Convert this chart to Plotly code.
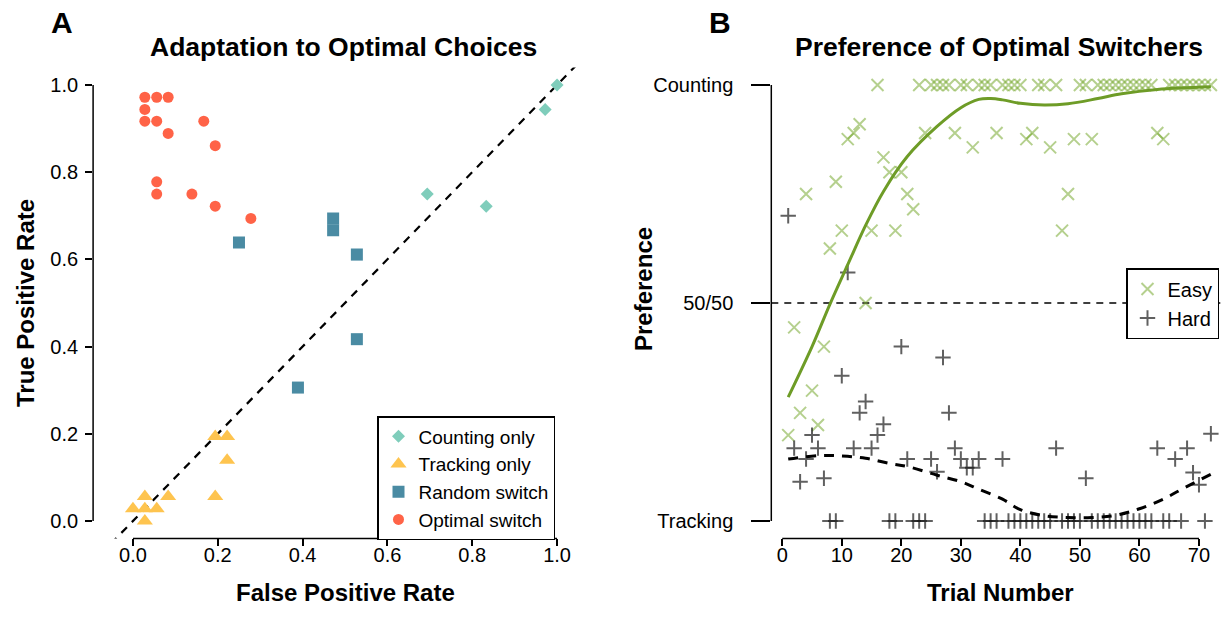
import plotly.graph_objects as go

W, H = 1221, 631
FONT = "Liberation Sans, Arial, Helvetica, sans-serif"

# ---------------- Panel A data (false / true positive rates) ----------------
counting_fpr = [1.0, 0.972, 0.694, 0.833]
counting_tpr = [1.0, 0.944, 0.750, 0.722]

tracking_fpr = [0.194, 0.222, 0.222, 0.028, 0.083, 0.194, 0.000, 0.028, 0.056, 0.028]
tracking_tpr = [0.194, 0.194, 0.139, 0.056, 0.056, 0.056, 0.028, 0.028, 0.028, 0.000]

random_fpr = [0.472, 0.472, 0.250, 0.528, 0.528, 0.389]
random_tpr = [0.694, 0.667, 0.639, 0.611, 0.417, 0.306]

optimal_fpr = [0.028, 0.056, 0.083, 0.028, 0.028, 0.056, 0.167, 0.083, 0.194,
               0.056, 0.056, 0.139, 0.194, 0.278]
optimal_tpr = [0.972, 0.972, 0.972, 0.944, 0.917, 0.917, 0.917, 0.889, 0.861,
               0.778, 0.750, 0.750, 0.722, 0.694]

a_ticks = [0.0, 0.2, 0.4, 0.6, 0.8, 1.0]
a_ticklabels = ["0.0", "0.2", "0.4", "0.6", "0.8", "1.0"]

# ---------------- Panel B data (preference per trial) ----------------
trials = list(range(1, 73))
easy_pref = [0.197, 0.444, 0.248, 0.750, 0.299, 0.220, 0.400, 0.625, 0.778, 0.666,
             0.876, 0.890, 0.910, 0.500, 0.666, 1.000, 0.834, 0.800, 0.666, 0.800,
             0.750, 0.715, 1.000, 0.890, 1.000, 1.000, 1.000, 1.000, 0.890, 1.000,
             1.000, 0.857, 1.000, 1.000, 1.000, 0.890, 1.000, 1.000, 1.000, 1.000,
             0.876, 0.890, 1.000, 1.000, 0.857, 1.000, 0.666, 0.750, 0.876, 1.000,
             1.000, 0.876, 1.000, 1.000, 1.000, 1.000, 1.000, 1.000, 1.000, 1.000,
             1.000, 1.000, 0.890, 0.876, 1.000, 1.000, 1.000, 1.000, 1.000, 1.000,
             1.000, 1.000]
hard_pref = [0.700, 0.167, 0.090, 0.142, 0.197, 0.167, 0.098, 0.000, 0.000, 0.333,
             0.570, 0.167, 0.248, 0.274, 0.167, 0.197, 0.222, 0.000, 0.000, 0.400,
             0.142, 0.000, 0.000, 0.000, 0.142, 0.113, 0.375, 0.248, 0.167, 0.142,
             0.122, 0.122, 0.142, 0.000, 0.000, 0.000, 0.142, 0.000, 0.000, 0.000,
             0.000, 0.000, 0.000, 0.000, 0.000, 0.167, 0.000, 0.000, 0.000, 0.000,
             0.098, 0.000, 0.000, 0.000, 0.000, 0.000, 0.000, 0.000, 0.000, 0.000,
             0.000, 0.000, 0.167, 0.000, 0.000, 0.142, 0.000, 0.167, 0.111, 0.083,
             0.000, 0.200]

# smoothed trends
easy_fit_trial = [1, 5, 8, 11, 14, 17, 21, 26, 30, 33, 35, 37, 40, 44, 48, 53, 57, 63, 72]
easy_fit_pref = [0.284, 0.400, 0.497, 0.588, 0.678, 0.756, 0.836, 0.905, 0.948, 0.967,
                 0.969, 0.966, 0.958, 0.954, 0.957, 0.969, 0.980, 0.990, 0.996]
hard_fit_trial = [1, 6, 10, 14, 18, 21, 26, 30, 33, 37, 40, 44, 48, 52, 56, 60, 64, 67, 72]
hard_fit_pref = [0.142, 0.150, 0.149, 0.144, 0.132, 0.125, 0.105, 0.090, 0.073, 0.050,
                 0.026, 0.012, 0.008, 0.008, 0.013, 0.028, 0.050, 0.072, 0.107]

b_xticks = [0, 10, 20, 30, 40, 50, 60, 70]
b_yticks = [0, 0.5, 1]
b_yticklabels = ["Tracking", "50/50", "Counting"]

# ---------------- colours ----------------
C_COUNT = "#7fcdbb"
C_TRACK = "#fec44f"
C_RAND = "#4a8ba3"
C_OPT = "#ff6347"
C_EASY_PT = "rgba(120,170,50,0.55)"
C_EASY_LN = "#6e9c27"
C_HARD_PT = "rgba(20,20,20,0.68)"

fig = go.Figure()

# Panel A scatter
fig.add_trace(go.Scatter(x=counting_fpr, y=counting_tpr, mode="markers", name="Counting only",
                         marker=dict(symbol="diamond", size=10, color=C_COUNT),
                         xaxis="x", yaxis="y", legend="legend"))
fig.add_trace(go.Scatter(x=tracking_fpr, y=tracking_tpr, mode="markers", name="Tracking only",
                         marker=dict(symbol="triangle-up", size=14, color=C_TRACK),
                         xaxis="x", yaxis="y", legend="legend"))
fig.add_trace(go.Scatter(x=random_fpr, y=random_tpr, mode="markers", name="Random switch",
                         marker=dict(symbol="square", size=12, color=C_RAND),
                         xaxis="x", yaxis="y", legend="legend"))
fig.add_trace(go.Scatter(x=optimal_fpr, y=optimal_tpr, mode="markers", name="Optimal switch",
                         marker=dict(symbol="circle", size=11, color=C_OPT),
                         xaxis="x", yaxis="y", legend="legend"))

# Panel B scatter + trends
fig.add_trace(go.Scatter(x=trials, y=easy_pref, mode="markers", name="Easy",
                         marker=dict(symbol="x-thin", size=12, color=C_EASY_PT,
                                     line=dict(width=2, color=C_EASY_PT)),
                         xaxis="x2", yaxis="y2", legend="legend2"))
fig.add_trace(go.Scatter(x=trials, y=hard_pref, mode="markers", name="Hard",
                         marker=dict(symbol="cross-thin", size=11, color=C_HARD_PT,
                                     line=dict(width=2, color=C_HARD_PT)),
                         xaxis="x2", yaxis="y2", legend="legend2"))
fig.add_trace(go.Scatter(x=easy_fit_trial, y=easy_fit_pref, mode="lines", showlegend=False,
                         line=dict(color=C_EASY_LN, width=3, shape="spline"),
                         xaxis="x2", yaxis="y2", hoverinfo="skip"))
fig.add_trace(go.Scatter(x=hard_fit_trial, y=hard_fit_pref, mode="lines", showlegend=False,
                         line=dict(color="black", width=3, shape="spline", dash="10px,8px"),
                         xaxis="x2", yaxis="y2", hoverinfo="skip"))

# plot regions (pixel -> paper)
ax_left, ax_right = 93.1 / W, 596.9 / W
bx_left, bx_right = 771.3 / W, 1.0
y_bot, y_top = 1 - 538.4 / H, 1 - 67.6 / H

tickfont = dict(family=FONT, size=20, color="black")
common = dict(showgrid=False, zeroline=False, showline=False, ticks="outside",
              tickcolor="black", tickwidth=1.5, tickfont=tickfont)

fig.update_layout(
    width=W, height=H, margin=dict(l=0, r=0, t=0, b=0),
    paper_bgcolor="white", plot_bgcolor="white",
    font=dict(family=FONT, color="black"),
    xaxis=dict(domain=[ax_left, ax_right], range=[-0.094, 1.094], anchor="y",
               tickvals=a_ticks, ticktext=a_ticklabels, ticklen=7,
               ticklabelstandoff=-8, **common),
    yaxis=dict(domain=[y_bot, y_top], range=[-0.04, 1.04], anchor="x",
               tickvals=a_ticks, ticktext=a_ticklabels, ticklen=7,
               ticklabelstandoff=3, **common),
    xaxis2=dict(domain=[bx_left, bx_right], range=[-1.84, 73.7], anchor="y2",
                tickvals=b_xticks, ticklen=7, ticklabelstandoff=-8, **common),
    yaxis2=dict(domain=[y_bot, y_top], range=[-0.04, 1.04], anchor="x2",
                tickvals=b_yticks, ticktext=b_yticklabels, ticklen=19,
                ticklabelstandoff=14, **common),
    legend=dict(x=377 / W, y=1 - 416 / H, xanchor="left", yanchor="top",
                bordercolor="black", borderwidth=1.5, bgcolor="white",
                font=dict(family=FONT, size=19, color="black"), tracegroupgap=0),
    legend2=dict(x=1219 / W, y=1 - 268 / H, xanchor="right", yanchor="top",
                 bordercolor="black", borderwidth=1.5, bgcolor="white",
                 font=dict(family=FONT, size=20, color="black"), tracegroupgap=0),
)

# axis lines spanning first to last tick, reference lines
line_k = dict(color="black", width=1.5)
shapes = [
    dict(type="line", xref="x", yref="y domain", x0=0, x1=1, y0=0, y1=0, line=line_k),
    dict(type="line", xref="x domain", yref="y", x0=0, x1=0, y0=0, y1=1, line=line_k),
    dict(type="line", xref="x2", yref="y2 domain", x0=0, x1=70, y0=0, y1=0, line=line_k),
    dict(type="line", xref="x2 domain", yref="y2", x0=0, x1=0, y0=0, y1=1, line=line_k),
    dict(type="line", xref="x", yref="y", x0=-0.2, y0=-0.2, x1=1.2, y1=1.2,
         line=dict(color="black", width=2.2, dash="8px,7px"), layer="below"),
    dict(type="line", xref="x2 domain", yref="y2", x0=0, x1=1, y0=0.5, y1=0.5,
         line=dict(color="black", width=1.5, dash="7px,6px"), layer="below"),
]
fig.update_layout(shapes=shapes)

def ann(text, x, y, size, bold=True, angle=0):
    return dict(text=f"<b>{text}</b>" if bold else text, x=x / W, y=1 - y / H,
                xref="paper", yref="paper", showarrow=False, textangle=angle,
                xanchor="center", yanchor="middle",
                font=dict(family=FONT, size=size, color="black"))

fig.update_layout(annotations=[
    ann("A", 62, 22, 30),
    ann("B", 720, 22, 30),
    ann("Adaptation to Optimal Choices", 343, 47, 26.5),
    ann("Preference of Optimal Switchers", 999, 47, 26.5),
    ann("False Positive Rate", 345, 592, 24),
    ann("Trial Number", 1000, 592, 24),
    ann("True Positive Rate", 25, 303, 24, angle=-90),
    ann("Preference", 643, 289, 24, angle=-90),
])

fig.write_html("out.html", config={"displayModeBar": False},
               post_script="document.body.style.margin='0';")
